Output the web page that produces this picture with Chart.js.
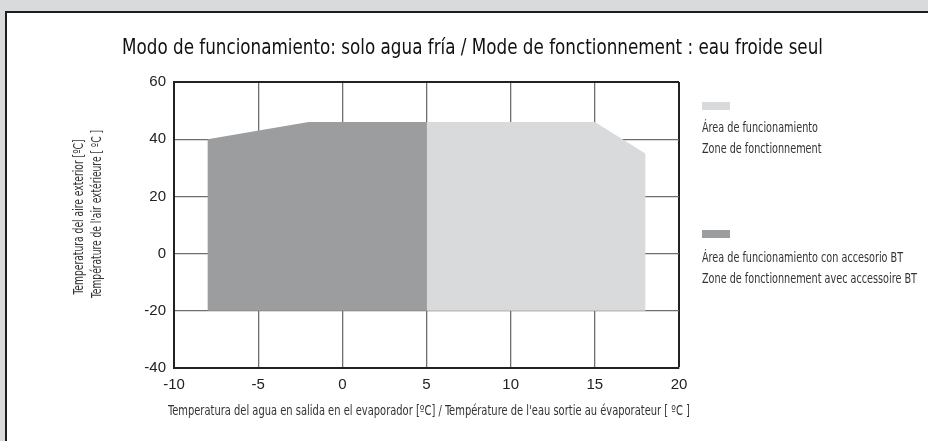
<!DOCTYPE html>
<html>
<head>
<meta charset="utf-8">
<script src="https://cdn.jsdelivr.net/npm/chart.js@4.4.1/dist/chart.umd.min.js"></script>
<style>
  html, body { margin: 0; padding: 0; overflow: hidden; }
  body { width: 928px; height: 441px; background: #d9dadc; position: relative; }
  .panel { position: absolute; left: 5px; top: 11px; right: -40px; bottom: -40px; background: #fff;
           border-left: 2px solid #1e1e1e; border-top: 2px solid #1e1e1e; }
  canvas { position: absolute; left: 0; top: 0; }
  .txt { position: absolute; white-space: nowrap; font-family: "DejaVu Sans", sans-serif; font-stretch: condensed; line-height: 1; }
  .sw { position: absolute; left: 702px; width: 28px; height: 8px; }
</style>
</head>
<body>
<div class="panel"></div>
<canvas id="chart" width="928" height="441"></canvas>
<script>
// ================== DATA ==================
const titleText = "Modo de funcionamiento: solo agua fría / Mode de fonctionnement : eau froide seul";
const xTitle = "Temperatura del agua en salida en el evaporador [ºC] /  Température de l'eau sortie au évaporateur [ ºC ]";
const yTitle = ["Temperatura del aire exterior [ºC]", "Température de l'air extérieure [ ºC ]"];

const xTicks = [-10, -5, 0, 5, 10, 15, 20];
const yTicks = [-40, -20, 0, 20, 40, 60];

// área con accesorio BT (gris oscuro)
const btX = [-8, -8, -2, 5, 5, -8];
const btY = [-20, 40, 46, 46, -20, -20];
// área de funcionamiento (gris claro)
const stdX = [5, 5, 15, 18, 18, 5];
const stdY = [-20, 46, 46, 35, -20, -20];

const legendColors = ["#d9dadc", "#9c9d9f"];
const legendLines = [
  ["Área de funcionamiento", "Zone de fonctionnement"],
  ["Área de funcionamiento con accesorio BT", "Zone de fonctionnement avec accessoire BT"],
];

// ================== TEXTOS (HTML) ==================
// crea un texto y devuelve su tamaño natural (luego se comprime con scaleX)
function addText(str, size, color) {
  const el = document.createElement("div");
  el.className = "txt";
  el.textContent = str;
  el.style.fontSize = size + "px";
  el.style.color = color;
  document.body.appendChild(el);
  const r = el.getBoundingClientRect();
  return { el, w: r.width, h: r.height };
}

// título: de x=122 a x=823, centro y≈47
{
  const t = addText(titleText, 21, "#111");
  t.el.style.left = "122px";
  t.el.style.top = 47 - t.h / 2 + "px";
  t.el.style.transformOrigin = "left center";
  t.el.style.transform = `scaleX(${701 / t.w})`;
}

// eje X: centro x≈429, y≈410, ancho ≈522
{
  const t = addText(xTitle, 14.5, "#333");
  t.el.style.left = 429 - t.w / 2 + "px";
  t.el.style.top = 410 - t.h / 2 + "px";
  t.el.style.transform = `scaleX(${522 / t.w})`;
}

// eje Y: dos líneas giradas
{
  const centers = [[78, 217, 155], [96, 214, 168]];
  yTitle.forEach((s, i) => {
    const t = addText(s, 14, "#333");
    const [cx, cy, len] = centers[i];
    t.el.style.left = cx - t.w / 2 + "px";
    t.el.style.top = cy - t.h / 2 + "px";
    t.el.style.transform = `rotate(-90deg) scaleX(${len / t.w})`;
  });
}

// leyenda
{
  const swTop = [102, 230];
  const lineY = [[127, 148], [257, 278]];
  const probe = addText(legendLines[1][1], 14.5, "#333");
  const k = 215 / probe.w;
  probe.el.remove();
  legendLines.forEach((lines, i) => {
    const sw = document.createElement("div");
    sw.className = "sw";
    sw.style.top = swTop[i] + "px";
    sw.style.background = legendColors[i];
    document.body.appendChild(sw);
    lines.forEach((s, j) => {
      const t = addText(s, 14.5, "#333");
      t.el.style.left = "702px";
      t.el.style.top = lineY[i][j] - t.h / 2 + "px";
      t.el.style.transformOrigin = "left center";
      t.el.style.transform = `scaleX(${k})`;
    });
  });
}

// ================== GRÁFICO ==================
const tickFont = { family: '"Liberation Sans", Arial, sans-serif', size: 15 };
const toPoints = (xs, ys) => xs.map((x, i) => ({ x, y: ys[i] }));

new Chart(document.getElementById("chart"), {
  type: "scatter",
  data: {
    datasets: [
      {
        label: legendLines[1][0],
        data: toPoints(btX, btY),
        showLine: true,
        fill: "shape",
        backgroundColor: legendColors[1],
        borderWidth: 0,
        pointRadius: 0,
        tension: 0,
      },
      {
        label: legendLines[0][0],
        data: toPoints(stdX, stdY),
        showLine: true,
        fill: "shape",
        backgroundColor: legendColors[0],
        borderWidth: 0,
        pointRadius: 0,
        tension: 0,
      },
    ],
  },
  options: {
    responsive: false,
    animation: false,
    layout: { padding: { left: 58, right: 249, top: 82, bottom: 14 } },
    plugins: { legend: { display: false }, tooltip: { enabled: false } },
    scales: {
      x: {
        type: "linear",
        min: xTicks[0],
        max: xTicks[xTicks.length - 1],
        z: 1,
        afterBuildTicks: (s) => { s.ticks = xTicks.map((v) => ({ value: v })); },
        afterFit: (s) => { s.height = 59; },
        ticks: { font: tickFont, color: "#222", padding: 8 },
        grid: {
          drawTicks: false,
          color: (c) => (c.tick && c.tick.value === 20 ? "#222" : "#6e6e6e"),
          lineWidth: (c) => (c.tick && c.tick.value === 20 ? 2 : 1.3),
        },
        border: { color: "#222", width: 2 },
      },
      y: {
        min: yTicks[0],
        max: yTicks[yTicks.length - 1],
        z: 1,
        afterBuildTicks: (s) => { s.ticks = yTicks.map((v) => ({ value: v })); },
        afterFit: (s) => { s.width = 174 - 58; },
        ticks: { font: tickFont, color: "#222", padding: 8 },
        grid: {
          drawTicks: false,
          color: (c) => (c.tick && c.tick.value === 60 ? "#222" : "#6e6e6e"),
          lineWidth: (c) => (c.tick && c.tick.value === 60 ? 2 : 1.3),
        },
        border: { color: "#222", width: 2 },
      },
    },
  },
});
</script>
</body>
</html>
